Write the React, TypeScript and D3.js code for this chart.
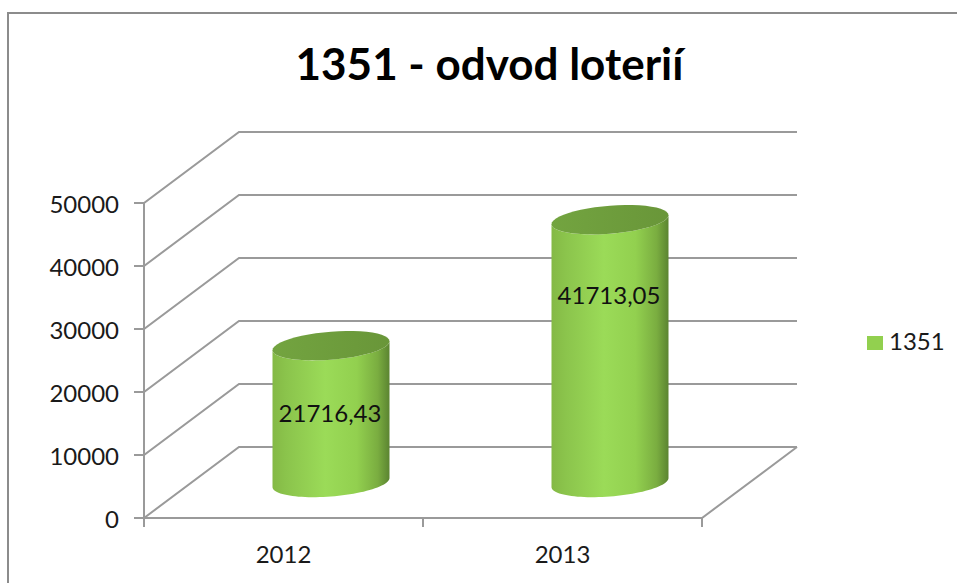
import React from "react";
import * as d3 from "d3";

const categories = ["2012", "2013"];
const seriesValues = [21716.43, 41713.05];
const valueLabels = ["21716,43", "41713,05"];
const yTicks = [0, 10000, 20000, 30000, 40000, 50000];
const seriesName = "1351";
const titleText = "1351 - odvod loterií";

const W = 957, H = 583;
const dx = 95, dy = -71;
const y = d3.scaleLinear().domain([0, 50000]).range([518, 203]);
const x = d3.scaleBand().domain(categories).range([144, 702]);
const rx = 58.5, ry = 14, skew = 4.5;
const font = "Lato, sans-serif";

const rim = (cx: number, cy: number, a0: number, a1: number) =>
  d3.range(0, 49).map((i) => {
    const t = a0 + ((a1 - a0) * i) / 48;
    return [cx + rx * Math.cos(t), cy - skew * Math.cos(t) + ry * Math.sin(t)] as [number, number];
  });
const line = d3.line();

export default function App() {
  return (
    <svg width={W} height={H} style={{ position: "absolute", left: 0, top: 0, background: "#fff" }}>
      <defs>
        <linearGradient id="body" x1="0" x2="1" y1="0" y2="0">
          <stop offset="0" stopColor="#84b945" />
          <stop offset="0.12" stopColor="#8bc44c" />
          <stop offset="0.45" stopColor="#9bdb58" />
          <stop offset="0.72" stopColor="#92d04f" />
          <stop offset="0.9" stopColor="#7aad40" />
          <stop offset="1" stopColor="#5b8431" />
        </linearGradient>
        <linearGradient id="cap" x1="0" x2="1" y1="0" y2="0">
          <stop offset="0" stopColor="#73a440" />
          <stop offset="1" stopColor="#699639" />
        </linearGradient>
      </defs>
      <path d="M8,583 V13 H957" fill="none" stroke="#8c8c8c" strokeWidth={2} />
      <text x={489.5} y={80} textAnchor="middle" fontFamily={font} fontSize={44} fontWeight={700} fill="#000">{titleText}</text>

      {yTicks.map((t) => (
        <g key={t} fill="none" stroke="#9a9a9a" strokeWidth={2}>
          <path d={line([[134, y(t)], [144, y(t)], [144 + dx, y(t) + dy], [702 + dx, y(t) + dy]]) ?? ""} />
        </g>
      ))}
      <path d={line([[144, y(0)], [144, y(50000)]]) ?? ""} stroke="#9a9a9a" strokeWidth={2} fill="none" />
      <path d={line([[144, y(0)], [702, y(0)], [702 + dx, y(0) + dy]]) ?? ""} stroke="#9a9a9a" strokeWidth={2} fill="none" />
      {[144, 423, 702].map((px) => (
        <path key={px} d={line([[px, y(0)], [px, y(0) + 9]]) ?? ""} stroke="#9a9a9a" strokeWidth={2} />
      ))}
      {yTicks.map((t) => (
        <text key={t} x={119} y={y(t) + 10} textAnchor="end" fontFamily={font} fontSize={24} fill="#1a1a1a">{t}</text>
      ))}

      {categories.map((c, i) => {
        const cx = x(c)! + x.bandwidth() / 2 + dx / 2;
        const base = y(0) + dy / 2;
        const top = base - (y(0) - y(seriesValues[i]));
        const bodyPts = [...rim(cx, top, Math.PI, 0), ...rim(cx, base, 0, Math.PI)];
        return (
          <g key={c}>
            <path d={(line(bodyPts) ?? "") + "Z"} fill="url(#body)" />
            <path d={(line(rim(cx, top, 0, 2 * Math.PI)) ?? "") + "Z"} fill="url(#cap)" />
            <text x={cx - 1} y={i === 0 ? 422 : 304} textAnchor="middle" fontFamily={font} fontSize={24} fill="#111">{valueLabels[i]}</text>
            <text x={x(c)! + x.bandwidth() / 2} y={563} textAnchor="middle" fontFamily={font} fontSize={24} fill="#1a1a1a">{c}</text>
          </g>
        );
      })}

      <rect x={867} y={336} width={16} height={14} fill="#92d04f" />
      <text x={889} y={350} fontFamily={font} fontSize={24} fill="#1a1a1a">{seriesName}</text>
    </svg>
  );
}
